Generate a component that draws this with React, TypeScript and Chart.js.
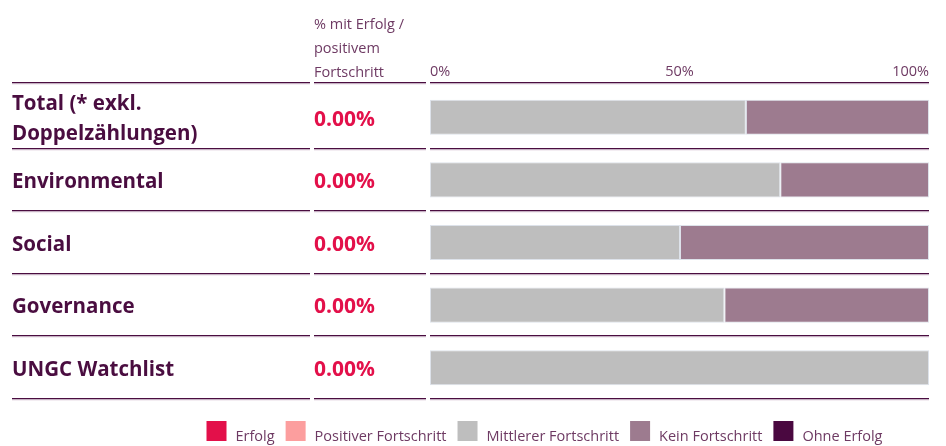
import React, { useEffect, useRef } from 'react';
import { Chart, registerables } from 'chart.js';

Chart.register(...registerables);

// ---------- data ----------
const categories: string[][] = [
  ['Total (* exkl.', 'Doppelzählungen)'],
  ['Environmental'],
  ['Social'],
  ['Governance'],
  ['UNGC Watchlist'],
];
const erfolg = [0, 0, 0, 0, 0];
const positiverFortschritt = [0, 0, 0, 0, 0];
const mittlererFortschritt = [63.3, 70.2, 50.1, 59.0, 100];
const keinFortschritt = [36.7, 29.8, 49.9, 41.0, 0];
const ohneErfolg = [0, 0, 0, 0, 0];
const xTickValues = [0, 50, 100];
const headerLines = ['% mit Erfolg /', 'positivem', 'Fortschritt'];
const seriesNames = ['Erfolg', 'Positiver Fortschritt', 'Mittlerer Fortschritt', 'Kein Fortschritt', 'Ohne Erfolg'];
const seriesColors = ['#e3104a', '#fc9e9e', '#bebebe', '#9d7b8f', '#4a0840'];
const seriesValues = [erfolg, positiverFortschritt, mittlererFortschritt, keinFortschritt, ohneErfolg];

// ---------- styles ----------
const FONT = "'Open Sans', 'Noto Sans', sans-serif";
const LABEL_COLOR = '#4a0d40';
const HEADER_COLOR = '#6e3a63';
const PCT_COLOR = '#e3104a';
const LINE_COLOR = '#4a0d40';
const LINE_LIGHT = '#e8dbe5';
const BAR_BORDER = '#dde2ea';

const tablePlugin = {
  id: 'tableDecor',
  afterDraw(chart: any) {
    const { ctx, chartArea, scales } = chart;
    const y = scales.y;
    const n = categories.length;
    const step = y.getPixelForValue(1) - y.getPixelForValue(0);
    const col1 = 12;
    const col2 = 314;
    const segments = [
      [12, 310],
      [314, 426],
      [chartArea.left, chartArea.right],
    ];
    ctx.save();

    // header text
    ctx.fillStyle = HEADER_COLOR;
    ctx.font = `14.5px ${FONT}`;
    ctx.textAlign = 'left';
    ctx.textBaseline = 'alphabetic';
    const lastBase = chartArea.top - 9.5;
    headerLines.forEach((t, i) => {
      ctx.fillText(t, col2, lastBase - (headerLines.length - 1 - i) * 24);
    });

    // divider lines
    const bounds: number[] = [];
    for (let k = 0; k <= n; k++) {
      if (k === 0) bounds.push(chartArea.top - 3);
      else bounds.push(y.getPixelForValue(k - 1) + step / 2);
    }
    bounds.forEach((b) => {
      const yy = Math.round(b);
      segments.forEach(([a, c]) => {
        ctx.fillStyle = LINE_COLOR;
        ctx.fillRect(a, yy - 1, c - a, 1.5);
        ctx.fillStyle = LINE_LIGHT;
        ctx.fillRect(a, yy + 0.5, c - a, 1);
      });
    });

    // row labels + percentages
    categories.forEach((lines, i) => {
      const cy = y.getPixelForValue(i);
      ctx.fillStyle = LABEL_COLOR;
      ctx.font = `bold 20.5px ${FONT}`;
      lines.forEach((t, j) => {
        ctx.fillText(t, col1, cy + 8 + (j - (lines.length - 1) / 2) * 30);
      });
      const pct = erfolg[i] + positiverFortschritt[i];
      ctx.fillStyle = PCT_COLOR;
      ctx.font = `bold 21px ${FONT}`;
      ctx.fillText(pct.toFixed(2) + '%', col2, cy + 8.3);
    });

    // legend
    ctx.font = `14.5px ${FONT}`;
    const box = 20;
    const textOff = 29;
    const gap = 11;
    const widths = seriesNames.map((s) => textOff + ctx.measureText(s).width);
    const total = widths.reduce((a, b) => a + b, 0) + gap * (seriesNames.length - 1);
    let x = 544.5 - total / 2;
    const boxTop = chart.height - 25;
    seriesNames.forEach((s, i) => {
      ctx.fillStyle = seriesColors[i];
      ctx.fillRect(x, boxTop, box, box);
      ctx.fillStyle = HEADER_COLOR;
      ctx.fillText(s, x + textOff, chart.height - 5.5);
      x += widths[i] + gap;
    });

    ctx.restore();
  },
};

export default function App() {
  const ref = useRef<HTMLCanvasElement | null>(null);

  useEffect(() => {
    if (!ref.current) return;
    const chart = new Chart(ref.current, {
      type: 'bar',
      data: {
        labels: categories.map((c) => c.join(' ')),
        datasets: seriesNames.map((name, i) => ({
          label: name,
          data: seriesValues[i],
          backgroundColor: seriesColors[i],
          borderColor: BAR_BORDER,
          borderWidth: (c: any) => (c.raw > 0 ? 1 : 0),
          borderSkipped: false,
          barPercentage: 0.56,
          categoryPercentage: 1,
        })),
      },
      options: {
        indexAxis: 'y',
        responsive: false,
        animation: false,
        devicePixelRatio: 1,
        layout: { padding: { left: 0, right: 17, top: 0, bottom: 47 } },
        plugins: {
          legend: { display: false },
          tooltip: { enabled: false },
        },
        scales: {
          x: {
            type: 'linear',
            position: 'top',
            stacked: true,
            min: 0,
            max: 100,
            afterBuildTicks: (axis: any) => {
              axis.ticks = xTickValues.map((v) => ({ value: v }));
            },
            afterFit: (axis: any) => {
              axis.height = 86;
            },
            grid: { display: false, drawTicks: false },
            border: { display: false },
            ticks: {
              align: 'inner',
              padding: 5,
              maxRotation: 0,
              autoSkip: false,
              color: HEADER_COLOR,
              font: { family: FONT, size: 14.5 },
              callback: (v: any) => v + '%',
            },
          },
          y: {
            type: 'category',
            stacked: true,
            position: 'left',
            afterFit: (axis: any) => {
              axis.width = 430;
            },
            grid: { display: false, drawTicks: false },
            border: { display: false },
            ticks: { display: false },
          },
        },
      } as any,
      plugins: [tablePlugin],
    });
    return () => chart.destroy();
  }, []);

  return (
    <div style={{ position: 'fixed', left: 0, top: 0, width: 946, height: 446, background: '#fff' }}>
      <canvas ref={ref} width={946} height={446} style={{ display: 'block', width: 946, height: 446 }} />
    </div>
  );
}
